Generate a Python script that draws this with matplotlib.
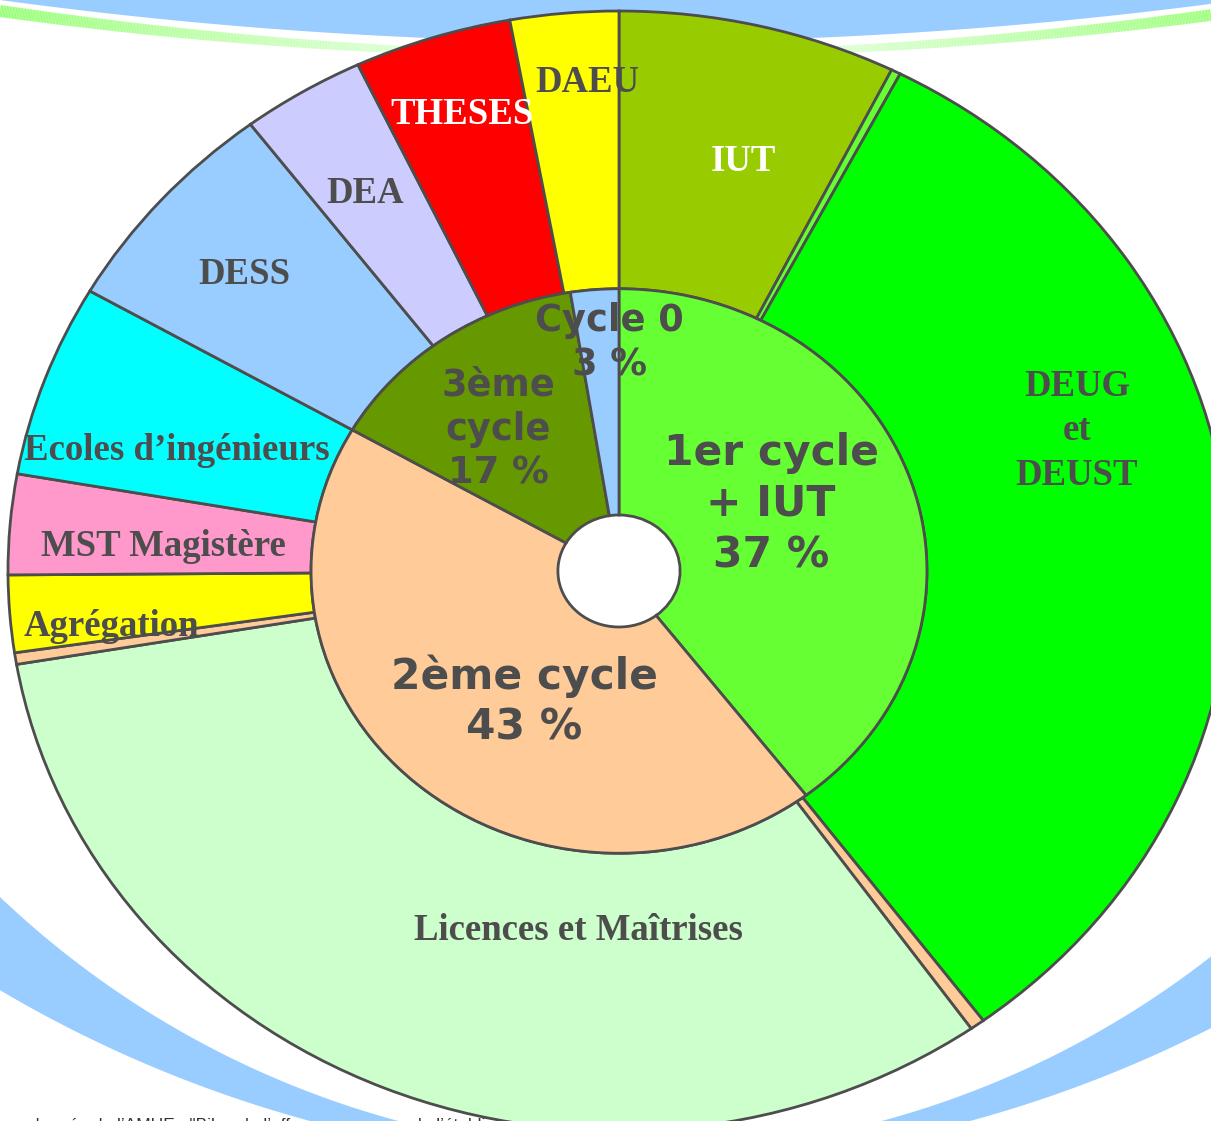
import numpy as np
import matplotlib
matplotlib.use("Agg")
import matplotlib.pyplot as plt
from matplotlib.collections import LineCollection
from matplotlib.colors import to_rgb

# ---------------- data (angular shares, degrees) ----------------
outer_labels = ["IUT", "", "DEUG\net\nDEUST", "", "Licences et Maîtrises", "",
                "Agrégation", "MST Magistère", "Ecoles d’ingénieurs", "DESS", "DEA",
                "THESES", "DAEU"]
outer_shares = [26.5, 0.9, 116.0, 1.4, 115.6, 1.2, 8.0, 10.4, 20.0, 22.9, 11.8, 15.0, 10.3]
outer_colors = ["#99CC00", "#66FF33", "#00FF00", "#FFCC99", "#CCFFCC", "#FFCC99",
                "#FFFF00", "#FF99CC", "#00FFFF", "#99CCFF", "#CCCCFF", "#FF0000", "#FFFF00"]

inner_labels = ["1er cycle\n+ IUT\n37 %", "2ème cycle\n43 %", "3ème\ncycle\n17 %", "Cycle 0\n3 %"]
inner_shares = [142.6, 157.4, 50.9, 9.1]
inner_colors = ["#66FF33", "#FFCC99", "#669900", "#99CCFF"]

source_note = "Source : donnée de l’AMUE : \"Bilan de l’offre de formation de l’établissement et de l’université\""

# ---------------- layout / style ----------------
W, H = 1211, 1121
EDGE = "#4D4D4D"
TXT = "#4D4D4D"
# label anchors in pixels: (x centre, first baseline, line step, colour)
outer_label_pos = {
    "IUT": (743, 171, 0, "white"),
    "DEUG\net\nDEUST": (1077, 396, 44.5, TXT),
    "Licences et Maîtrises": (578, 940, 0, TXT),
    "Agrégation": (111, 636, 0, TXT),
    "MST Magistère": (163, 556, 0, TXT),
    "Ecoles d’ingénieurs": (177, 460, 0, TXT),
    "DESS": (244, 284, 0, TXT),
    "DEA": (365, 203, 0, TXT),
    "THESES": (462, 124, 0, "white"),
    "DAEU": (587, 92, 0, TXT),
}
inner_label_pos = {
    "1er cycle\n+ IUT\n37 %": (771, 465, 51, 30.5),
    "2ème cycle\n43 %": (524, 689, 51, 30.5),
    "3ème\ncycle\n17 %": (498, 395, 44.5, 26.5),
    "Cycle 0\n3 %": (609, 331, 45, 26.5),
}

fig = plt.figure(figsize=(W / 100, H / 100), dpi=100)
fig.patch.set_facecolor("white")

# ---------------- background decoration (pixel coordinates) ----------------
bg = fig.add_axes([0, 0, 1, 1])
bg.set_xlim(0, W)
bg.set_ylim(H, 0)
bg.axis("off")

xs = np.linspace(0, W, 800)
# top blue arc
y_top = -4555 + np.sqrt(4597.0 ** 2 - (xs - 620) ** 2)
bg.fill_between(xs, -5, y_top, color="#99CCFF", lw=0, zorder=1)

# fading green line
yg = -4335 + np.sqrt(4390.0 ** 2 - (xs - 620) ** 2)
pts = np.column_stack([xs, yg]).reshape(-1, 1, 2)
segs = np.concatenate([pts[:-1], pts[1:]], axis=1)
t = np.clip(np.abs(xs[:-1] - 620) / 620, 0, 1)
g0 = np.array(to_rgb("#F4FFF4"))
g1 = np.array(to_rgb("#99FF77"))
cols = g0 + (g1 - g0) * (t[:, None] ** 1.3)
lws = (5 + 7 * t) * 72 / 100
bg.add_collection(LineCollection(segs, colors=cols, linewidths=lws, zorder=2))

# source note (mostly hidden at the bottom, as in the original slide)
bg.text(-40, 1130, source_note, ha="left", va="baseline", fontsize=12.5,
        family="Liberation Sans", color="#333333", zorder=2)

# bottom blue crescent band
y_in = 225 + np.sqrt(928.0 ** 2 - (xs - 640) ** 2)
y_out = -94 + np.sqrt(1259.0 ** 2 - (xs - 640) ** 2)
bg.fill_between(xs, y_in, y_out, where=y_out > y_in, interpolate=True,
                color="#99CCFF", lw=0, zorder=3)

# ---------------- the two-ring pie ----------------
cx, cy, rx, ry = 619, 571, 611, 560
ax = fig.add_axes([(cx - rx) / W, (H - cy - ry) / H, 2 * rx / W, 2 * ry / H])
ax.patch.set_alpha(0)
ax.pie(outer_shares, radius=1.0, colors=outer_colors, startangle=90, counterclock=False,
       wedgeprops=dict(width=0.496, edgecolor=EDGE, linewidth=2.0, joinstyle="miter"))
ax.pie(inner_shares, radius=0.504, colors=inner_colors, startangle=90, counterclock=False,
       wedgeprops=dict(width=0.404, edgecolor=EDGE, linewidth=2.0, joinstyle="miter"))
ax.set_aspect("auto")
ax.set_xlim(-1, 1)
ax.set_ylim(-1, 1)
ax.axis("off")

# ---------------- labels overlay ----------------
ov = fig.add_axes([0, 0, 1, 1])
ov.set_xlim(0, W)
ov.set_ylim(H, 0)
ov.axis("off")
ov.patch.set_alpha(0)


def put(text, x, y0, step, **kw):
    for i, line in enumerate(text.split("\n")):
        ov.text(x, y0 + i * step, line, ha="center", va="baseline", **kw)


for lab in outer_labels:
    if not lab:
        continue
    x, y0, step, col = outer_label_pos[lab]
    put(lab, x, y0, step, fontsize=26.5, family="Liberation Serif",
        fontweight="bold", color=col)

for lab in inner_labels:
    x, y0, step, fs = inner_label_pos[lab]
    put(lab, x, y0, step, fontsize=fs, family="DejaVu Sans",
        fontweight="bold", color=TXT)

fig.savefig("out.png", dpi=100, facecolor="white")
